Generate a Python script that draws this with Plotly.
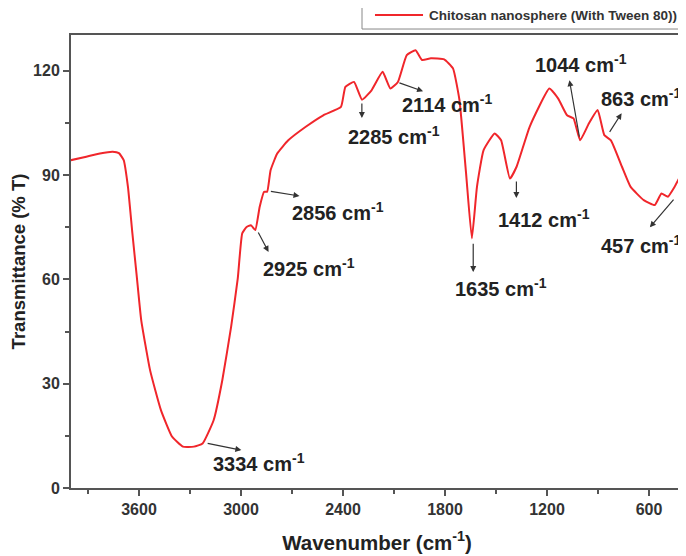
import plotly.graph_objects as go

# FTIR spectrum
wavenumber = [4001, 3910, 3830, 3755, 3718, 3690, 3665, 3639, 3613, 3587, 3535, 3471, 3406,
              3342, 3277, 3226, 3161, 3110, 3058, 3019, 2993, 2967, 2942, 2916, 2890, 2864,
              2846, 2826, 2787, 2722, 2619, 2516, 2412, 2386, 2335, 2288, 2232, 2167, 2121,
              2077, 2025, 1973, 1935, 1883, 1805, 1753, 1715, 1676, 1642, 1612, 1573, 1508,
              1470, 1418, 1379, 1302, 1186, 1134, 1082, 1044, 1005, 953, 902, 863, 824, 759,
              708, 631, 566, 527, 489, 450, 398]
transmittance = [94.3, 95.3, 96.2, 96.7, 96.3, 94.3, 86.6, 73.3, 60.8, 48.3, 33.9, 22.4, 14.8,
                 11.9, 11.9, 12.8, 19.5, 31.0, 46.4, 60.3, 73.2, 75.1, 75.6, 74.2, 80.9, 85.2,
                 85.2, 91.4, 96.2, 100.0, 103.9, 107.2, 109.6, 115.4, 116.8, 111.7, 114.4, 119.7,
                 114.9, 116.8, 124.5, 125.9, 123.1, 123.6, 123.3, 120.7, 111.6, 90.5, 71.8, 86.6,
                 97.2, 102.0, 100.0, 89.0, 92.4, 103.9, 114.9, 112.0, 107.2, 106.3, 100.0, 104.9,
                 108.7, 101.5, 100.0, 92.4, 86.6, 82.8, 81.4, 84.7, 83.8, 86.6, 91.4]

peak_labels = ["3334", "2925", "2856", "2285", "2114", "1635", "1412", "1044", "863", "457"]
series_name = "Chitosan nanosphere (With Tween 80))"

# label placement: (text x, text y, arrow tail x, tail y, arrow head x, head y) in data units
label_layout = [
    (3175, 7.2, 3205, 12.9, 2998, 10.9),
    (2880, 63.5, 2903, 73.9, 2838, 67.9),
    (2709, 79.4, 2833, 85.4, 2656, 84.0),
    (2384, 101.5, 2289, 111.0, 2289, 106.4),
    (2065, 110.7, 2077, 116.7, 1929, 114.1),
    (1752, 57.8, 1634, 70.7, 1634, 62.1),
    (1498, 77.6, 1380, 88.6, 1380, 83.4),
    (1280, 122.2, 1008, 100.6, 1068, 117.3),
    (896, 112.4, 837, 102.0, 761, 107.8),
    (896, 69.9, 448, 83.4, 595, 75.0),
]

FONT = "Liberation Sans, Arial, sans-serif"
RED = "#f0262b"

fig = go.Figure()
fig.add_trace(go.Scatter(
    x=wavenumber, y=transmittance, mode="lines", name=series_name,
    line=dict(color=RED, width=2, shape="spline", smoothing=0.4),
    showlegend=False,
))

for lab, (tx, ty, x0, y0, x1, y1) in zip(peak_labels, label_layout):
    # arrow from the curve towards the label
    fig.add_annotation(
        x=x1, y=y1, ax=x0, ay=y0, xref="x", yref="y", axref="x", ayref="y",
        text="", showarrow=True, arrowhead=2, arrowsize=1, arrowwidth=1.2,
        arrowcolor="#333333",
    )
    fig.add_annotation(
        x=tx, y=ty, xref="x", yref="y", xanchor="left", yanchor="middle",
        text=f"<b>{lab} cm<sup>-1</sup></b>", showarrow=False,
        font=dict(family=FONT, size=20, color="#222222"),
    )

# legend box drawn by hand so it can sit above the frame like in the original
fig.add_shape(type="rect", xref="paper", yref="paper", x0=0.4755, x1=1.0016, y0=1.0132, y1=1.09,
              line=dict(color="#888888", width=1), fillcolor="white")
fig.add_shape(type="line", xref="paper", yref="paper", x0=0.4967, x1=0.5752, y0=1.044, y1=1.044,
              line=dict(color=RED, width=2))
fig.add_annotation(x=0.5817, y=1.042, xref="paper", yref="paper", xanchor="left", yanchor="middle",
                   text=series_name, showarrow=False,
                   font=dict(family=FONT, size=13.5, color="#333333", weight="bold"))

fig.update_layout(
    width=686, height=556,
    margin=dict(l=63, r=11, t=27, b=76),
    plot_bgcolor="white", paper_bgcolor="white",
    font=dict(family=FONT, color="#333333"),
    showlegend=False,
    xaxis=dict(
        range=[4000, 400], tickvals=[3600, 3000, 2400, 1800, 1200, 600],
        ticks="outside", ticklen=6, tickwidth=2, tickcolor="#555555",
        minor=dict(tickvals=[3900, 3300, 2700, 2100, 1500, 900], ticks="outside",
                   ticklen=4, tickwidth=2, tickcolor="#555555"),
        showline=True, linecolor="#555555", linewidth=2, mirror=True,
        showgrid=False, zeroline=False, automargin=False,
        tickfont=dict(family=FONT, size=16, color="#333333", weight="bold"),
        title=dict(text="<b>Wavenumber (cm<sup>-1</sup>)</b>",
                   font=dict(family=FONT, size=20.5, color="#222222"), standoff=18),
    ),
    yaxis=dict(
        range=[0, 130.3], tickvals=[0, 30, 60, 90, 120],
        ticks="outside", ticklen=6, tickwidth=2, tickcolor="#555555",
        minor=dict(tickvals=[15, 45, 75, 105], ticks="outside",
                   ticklen=4, tickwidth=2, tickcolor="#555555"),
        showline=True, linecolor="#555555", linewidth=2, mirror=True,
        showgrid=False, zeroline=False, automargin=False,
        tickfont=dict(family=FONT, size=16, color="#333333", weight="bold"),
        title=dict(text="<b>Transmittance (% T)</b>",
                   font=dict(family=FONT, size=18.5, color="#222222"), standoff=16),
    ),
)

fig.write_html("out.html")
